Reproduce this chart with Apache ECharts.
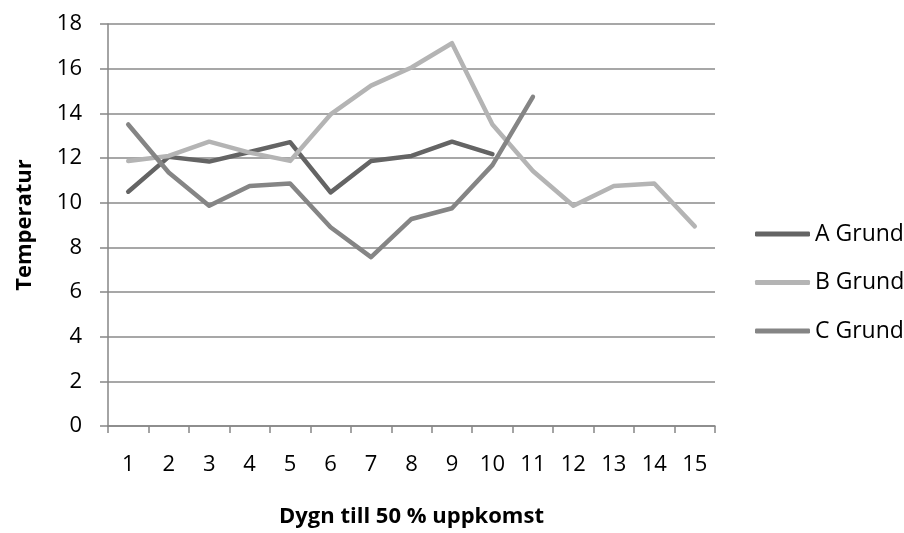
<!DOCTYPE html>
<html><head><meta charset="utf-8">
<script src="https://cdn.jsdelivr.net/npm/echarts@6/dist/echarts.min.js"></script>
<style>html,body{margin:0;padding:0;background:#fff}#c{width:904px;height:533px}</style>
</head><body><div id="c"></div>
<script>
var categories = ['1','2','3','4','5','6','7','8','9','10','11','12','13','14','15'];
var aGrund = [10.49, 12.05, 11.84, 12.27, 12.71, 10.46, 11.87, 12.09, 12.73, 12.17, null, null, null, null, null];
var bGrund = [11.87, 12.09, 12.73, 12.24, 11.87, 13.95, 15.24, 16.05, 17.14, 13.5, 11.42, 9.86, 10.75, 10.86, 8.94];
var cGrund = [13.5, 11.35, 9.86, 10.75, 10.86, 8.9, 7.56, 9.27, 9.75, 11.68, 14.74, null, null, null, null];
var seriesNames = ['A Grund', 'B Grund', 'C Grund'];
var colors = ['#646464', '#b4b4b4', '#858585'];
var font = '"Open Sans", Lato, sans-serif';
var chart = echarts.init(document.getElementById('c'), null, {renderer:'canvas'});
function mk(name, data, color){
  return {name:name, type:'line', data:data, symbol:'none', connectNulls:false,
    lineStyle:{color:color, width:4.5, cap:'round', join:'round'}, itemStyle:{color:color}};
}
chart.setOption({
  animation:false,
  grid:{left:108, top:24, right:189, bottom:105},
  legend:{orient:'vertical', left:755, top:222, itemWidth:55, itemHeight:5, itemGap:24.5,
    icon:'roundRect', data:seriesNames, padding:0,
    textStyle:{fontFamily:font, fontSize:23, color:'#000', lineHeight:24}},
  xAxis:{type:'category', data:categories, boundaryGap:true,
    axisLine:{lineStyle:{color:'#868686', width:1.5}},
    axisTick:{show:true, length:7, lineStyle:{color:'#868686', width:1.5}},
    axisLabel:{fontFamily:font, fontSize:22, color:'#000', margin:28},
    name:'Dygn till 50 % uppkomst', nameLocation:'middle', nameGap:80,
    nameTextStyle:{fontFamily:font, fontSize:22, fontWeight:'bold', color:'#000'}},
  yAxis:{type:'value', min:0, max:18, interval:2,
    axisLine:{show:true, lineStyle:{color:'#868686', width:1.5}},
    axisTick:{show:true, length:8, lineStyle:{color:'#868686', width:1.5}},
    splitLine:{lineStyle:{color:'#8a8a8a', width:1.5}},
    axisLabel:{fontFamily:font, fontSize:22, color:'#000', margin:26},
    name:'Temperatur', nameLocation:'middle', nameGap:72,
    nameTextStyle:{fontFamily:font, fontSize:22, fontWeight:'bold', color:'#000'}},
  series:[mk(seriesNames[0], aGrund, colors[0]), mk(seriesNames[1], bGrund, colors[1]), mk(seriesNames[2], cGrund, colors[2])]
});
</script></body></html>
